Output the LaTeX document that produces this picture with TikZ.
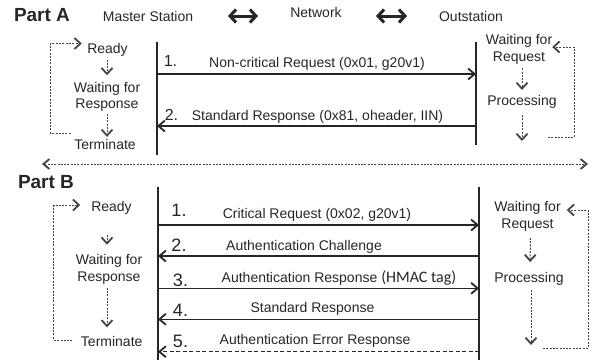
\documentclass[tikz,border=0pt]{standalone}
\usepackage{fontspec}
\setmainfont{Liberation Sans}
\newfontfamily\tagfont{Carlito}
\usetikzlibrary{arrows.meta}
\definecolor{ink}{HTML}{262626}
\definecolor{dashink}{HTML}{444444}
\begin{document}
\begin{tikzpicture}[x=1pt,y=-1pt,
  every node/.style={inner sep=0pt,outer sep=0pt,text=ink},
  lbl/.style={font=\fontsize{14}{16.5}\selectfont},
  state/.style={font=\fontsize{14}{16.5}\selectfont,align=center},
  part/.style={font=\fontsize{19}{22}\selectfont\bfseries,anchor=west},
  numA/.style={font=\fontsize{16}{18}\selectfont},
  numB/.style={font=\fontsize{18}{20}\selectfont},
  life/.style={draw=ink,line width=1.2pt},
  msgtip/.style={-{Straight Barb[length=6.5pt,width=11pt,line width=1.8pt]}},
  msg/.style={draw=ink,line width=1.4pt,msgtip},
  msgdash/.style={msg,dash pattern=on 4pt off 2.5pt,line width=1.1pt},
  sttip/.style={-{Straight Barb[length=6pt,width=11pt,line width=1.8pt]}},
  stflow/.style={draw=dashink,line width=1pt,dash pattern=on 2pt off 1.3pt,sttip},
  both/.style={draw=ink,line width=3pt,
    {Straight Barb[length=6pt,width=13pt,line width=3pt]}-{Straight Barb[length=6pt,width=13pt,line width=3pt]}},
  divider/.style={draw=dashink,line width=1pt,dash pattern=on 2pt off 1.3pt,
    {Straight Barb[length=6pt,width=10pt,line width=1.8pt]}-{Straight Barb[length=6pt,width=10pt,line width=1.8pt]}}
]
\useasboundingbox (0,0) rectangle (592,360);

% ---------- header ----------
\node[part] (partA) at (14,15) {Part A};
\node[lbl] (master) at (148,16.5) {Master Station};
\node[lbl] (network) at (316,12) {Network};
\node[lbl] (outst) at (471,16.5) {Outstation};
\coordinate (h1l) at (228,16); \coordinate (h1r) at (258,16);
\coordinate (h2l) at (376,16); \coordinate (h2r) at (407,16);
\draw[both] (h1l) -- (h1r);
\draw[both] (h2l) -- (h2r);

% ---------- Part A: lifelines ----------
\coordinate (mA1) at (157,42);  \coordinate (mA2) at (157,155);
\coordinate (oA1) at (476,42);  \coordinate (oA2) at (476,145);
\draw[life] (mA1) -- (mA2);
\draw[life] (oA1) -- (oA2);

% master states
\node[state] (readyA) at (107.5,49.5) {Ready};
\node[state] (waitA) at (107,97) {Waiting for\\Response};
\node[state] (termA) at (105,144) {Terminate};
\draw[stflow,shorten <=3.5pt,shorten >=7pt] (readyA.south -| waitA) -- (waitA.north);
\draw[stflow,shorten <=2pt,shorten >=2pt] (waitA.south) -- (termA.north -| waitA);
\draw[stflow,shorten <=3.5pt,shorten >=5.5pt] ([yshift=11pt]termA.west) -- ++(-24,0) |- ([yshift=6pt]readyA.west);

% outstation states
\node[state] (waitReqA) at (519,49.5) {Waiting for\\Request};
\node[state] (procA) at (522,101.5) {Processing};
\coordinate (endA) at (522,141);
\coordinate (loopA) at (548,137);
\draw[stflow,shorten <=4pt,shorten >=5pt] (waitReqA.south -| procA) -- (procA.north);
\draw[stflow,shorten <=7pt] (procA.south) -- (endA);
\draw[stflow] (loopA) -- ++(26,0) |- ([yshift=2.5pt]waitReqA.east);

% messages
\node[numA] (n1A) at (170.5,61) {1.};
\node[lbl] (t1A) at (317,63.5) {Non-critical Request (0x01, g20v1)};
\coordinate (a1s) at (157,74); \coordinate (a1e) at (476,74);
\draw[msg] (a1s) -- (a1e);
\node[numA] (n2A) at (171.5,114.5) {2.};
\node[lbl] (t2A) at (317.5,116.5) {Standard Response (0x81, oheader, IIN)};
\coordinate (a2s) at (476,126); \coordinate (a2e) at (157,126);
\draw[msg] (a2s) -- (a2e);

% ---------- divider ----------
\coordinate (dL) at (42,164); \coordinate (dR) at (588,164);
\draw[divider] (dL) -- (dR);

% ---------- Part B ----------
\node[part] (partB) at (18,181.7) {Part B};
\coordinate (mB1) at (158,187);  \coordinate (mB2) at (158,360);
\coordinate (oB1) at (479,187);  \coordinate (oB2) at (479,360);
\draw[life] (mB1) -- (mB2);
\draw[life] (oB1) -- (oB2);

% master states
\node[state] (readyB) at (111.5,208) {Ready};
\node[state] (waitB) at (109,269.5) {Waiting for\\Response};
\node[state] (termB) at (111.7,341.5) {Terminate};
\draw[stflow,shorten <=20pt,shorten >=10pt] ([xshift=-2pt]readyB.south -| waitB) -- ([xshift=-2pt]waitB.north);
\draw[stflow,shorten <=3.5pt,shorten >=9pt] ([xshift=-2pt]waitB.south) -- ([xshift=-2pt]termB.north -| waitB);
\draw[stflow,shorten <=8.5pt,shorten >=11pt] ([yshift=1.5pt]termB.west) -- ++(-27,0) |- ([yshift=3pt]readyB.west);

% outstation states
\node[state] (waitReqB) at (527.5,216.5) {Waiting for\\Request};
\node[state] (procB) at (529,278.5) {Processing};
\coordinate (endB) at (531,345);
\coordinate (loopB) at (543,348);
\draw[stflow,shorten <=6.5pt,shorten >=10pt] ([xshift=1.5pt]waitReqB.south -| procB) -- ([xshift=1pt]procB.north);
\draw[stflow,shorten <=5pt] (procB.south -| endB) -- (endB);
\draw[stflow] (loopB) -- ++(45,0) |- ([xshift=6pt,yshift=6.5pt]waitReqB.east);

% messages
\node[numB] (n1B) at (179,210) {1.};
\node[lbl] (t1B) at (317,214.5) {Critical Request (0x02, g20v1)};
\coordinate (b1s) at (158,225); \coordinate (b1e) at (479,225);
\draw[msg] (b1s) -- (b1e);

\node[numB] (n2B) at (179,245) {2.};
\node[lbl] (t2B) at (304,246.5) {Authentication Challenge};
\coordinate (b2s) at (479,256); \coordinate (b2e) at (158,256);
\draw[msg] (b2s) -- (b2e);

\node[numB] (n3B) at (180.5,280) {3.};
\node[lbl] (t3B) at (339,278.5) {Authentication Response {\tagfont\fontsize{16}{18}\selectfont(HMAC tag)}};
\coordinate (b3s) at (158,288.3); \coordinate (b3e) at (479,288.3);
\draw[msg] (b3s) -- (b3e);

\node[numB] (n4B) at (180.5,310) {4.};
\node[lbl] (t4B) at (312.5,308.5) {Standard Response};
\coordinate (b4s) at (479,319.3); \coordinate (b4e) at (158,319.3);
\draw[msg] (b4s) -- (b4e);

\node[numB] (n5B) at (180.5,341.7) {5.};
\node[lbl] (t5B) at (315,340.5) {Authentication Error Response};
\coordinate (b5s) at (479,351.7); \coordinate (b5e) at (158,351.7);
\draw[msgdash] (b5s) -- (b5e);
\end{tikzpicture}
\end{document}
